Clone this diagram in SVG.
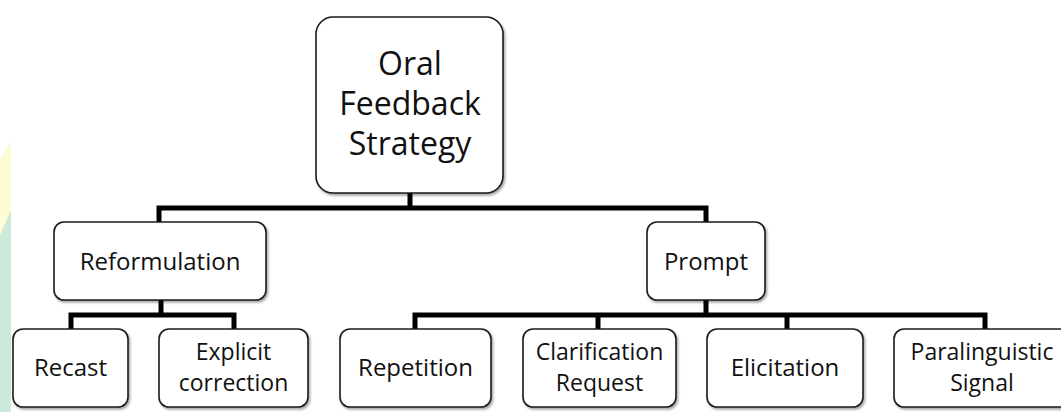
<svg xmlns="http://www.w3.org/2000/svg" width="1061" height="412" viewBox="0 0 1061 412">
<style>
.box{fill:#fff;stroke:#1a1a1a;stroke-width:1.6;filter:url(#sh)}
.t{font-family:"Open Sans","Noto Sans",sans-serif;font-size:24px;fill:#111;text-anchor:middle}
.t2{font-size:23px}
.tr{font-size:32px}
.c{fill:none;stroke:#000;stroke-width:5;stroke-linejoin:miter;stroke-linecap:butt}
</style>
<defs>
<filter id="sh" x="-10%" y="-10%" width="125%" height="130%">
<feDropShadow dx="1.5" dy="2" stdDeviation="1.3" flood-color="#000" flood-opacity="0.35"/>
</filter>
</defs>
<rect width="1061" height="412" fill="#fff"/>
<g id="watermark">
<polygon points="0,160 11,142 11,210 0,235" fill="#fefcd2"/>
<polygon points="0,235 11,210 11,412 0,412" fill="#cde9da"/>
</g>
<g id="connectors">
<path class="c" d="M410,193 V208 M159,222 V208 H706 V222"/>
<path class="c" d="M161,300 V315 M71,329 V315 H234 V329"/>
<path class="c" d="M706,300 V315 M415,329 V315 H985 V329 M598,315 V329 M787,315 V329"/>
</g>
<g id="root">
<rect class="box" x="316" y="17" width="187" height="176" rx="17"/>
<text class="t tr" x="410" y="75">Oral</text>
<text class="t tr" x="410" y="115">Feedback</text>
<text class="t tr" x="410" y="155">Strategy</text>
</g>
<g id="reformulation">
<rect class="box" x="54" y="222" width="212" height="78" rx="10"/>
<text class="t" x="160" y="270">Reformulation</text>
</g>
<g id="prompt">
<rect class="box" x="647" y="222" width="118" height="78" rx="10"/>
<text class="t" x="706" y="270">Prompt</text>
</g>
<g id="recast">
<rect class="box" x="13" y="329" width="115" height="78" rx="10"/>
<text class="t" x="70.5" y="376">Recast</text>
</g>
<g id="explicit">
<rect class="box" x="159" y="329" width="149" height="78" rx="10"/>
<text class="t t2" x="233.5" y="360">Explicit</text>
<text class="t t2" x="233.5" y="391">correction</text>
</g>
<g id="repetition">
<rect class="box" x="340" y="329" width="151" height="78" rx="10"/>
<text class="t" x="415.5" y="376">Repetition</text>
</g>
<g id="clarification">
<rect class="box" x="523" y="329" width="153" height="78" rx="10"/>
<text class="t t2" x="599.5" y="360">Clarification</text>
<text class="t t2" x="599.5" y="391">Request</text>
</g>
<g id="elicitation">
<rect class="box" x="707" y="329" width="156" height="78" rx="10"/>
<text class="t" x="785" y="376">Elicitation</text>
</g>
<g id="paralinguistic">
<rect class="box" x="894" y="329" width="182" height="78" rx="10"/>
<text class="t t2" x="982" y="360">Paralinguistic</text>
<text class="t t2" x="982" y="391">Signal</text>
</g>
</svg>
